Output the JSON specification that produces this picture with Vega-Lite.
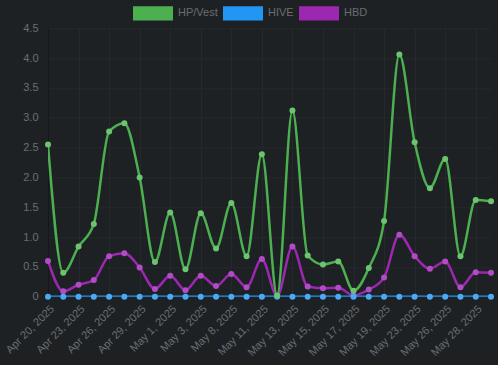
{
  "$schema": "https://vega.github.io/schema/vega-lite/v6.json",
  "autosize": "none",
  "width": 443,
  "height": 268.4,
  "padding": {"left": 48, "top": 28.3, "right": 7, "bottom": 68.3},
  "background": "#1e2124",
  "config": {
    "view": {"stroke": null},
    "font": "Liberation Sans",
    "axis": {"labelColor": "#6a6e73", "labelFontSize": 11, "labelFont": "Liberation Sans", "gridColor": "#25292d", "gridWidth": 1, "ticks": false, "title": null},
    "legend": {"labelColor": "#6a6e73", "labelFontSize": 11, "labelFont": "Liberation Sans"}
  },
  "data": {
    "values": [
      {"date": "Apr 20, 2025", "HP/Vest": 2.55, "HIVE": 0, "HBD": 0.6},
      {"date": "Apr 22, 2025", "HP/Vest": 0.4, "HIVE": 0, "HBD": 0.09},
      {"date": "Apr 23, 2025", "HP/Vest": 0.84, "HIVE": 0, "HBD": 0.2},
      {"date": "Apr 25, 2025", "HP/Vest": 1.22, "HIVE": 0, "HBD": 0.28},
      {"date": "Apr 26, 2025", "HP/Vest": 2.77, "HIVE": 0, "HBD": 0.68},
      {"date": "Apr 28, 2025", "HP/Vest": 2.91, "HIVE": 0, "HBD": 0.73},
      {"date": "Apr 29, 2025", "HP/Vest": 2.0, "HIVE": 0, "HBD": 0.49},
      {"date": "Apr 30, 2025", "HP/Vest": 0.58, "HIVE": 0, "HBD": 0.13},
      {"date": "May 1, 2025", "HP/Vest": 1.41, "HIVE": 0, "HBD": 0.35},
      {"date": "May 2, 2025", "HP/Vest": 0.46, "HIVE": 0, "HBD": 0.11},
      {"date": "May 3, 2025", "HP/Vest": 1.4, "HIVE": 0, "HBD": 0.35},
      {"date": "May 5, 2025", "HP/Vest": 0.81, "HIVE": 0, "HBD": 0.18},
      {"date": "May 8, 2025", "HP/Vest": 1.57, "HIVE": 0, "HBD": 0.38},
      {"date": "May 10, 2025", "HP/Vest": 0.68, "HIVE": 0, "HBD": 0.16},
      {"date": "May 11, 2025", "HP/Vest": 2.39, "HIVE": 0, "HBD": 0.63},
      {"date": "May 12, 2025", "HP/Vest": 0.02, "HIVE": 0, "HBD": 0.01},
      {"date": "May 13, 2025", "HP/Vest": 3.12, "HIVE": 0, "HBD": 0.84},
      {"date": "May 14, 2025", "HP/Vest": 0.69, "HIVE": 0, "HBD": 0.17},
      {"date": "May 15, 2025", "HP/Vest": 0.54, "HIVE": 0, "HBD": 0.14},
      {"date": "May 16, 2025", "HP/Vest": 0.59, "HIVE": 0, "HBD": 0.15},
      {"date": "May 17, 2025", "HP/Vest": 0.1, "HIVE": 0, "HBD": 0.02},
      {"date": "May 18, 2025", "HP/Vest": 0.48, "HIVE": 0, "HBD": 0.12},
      {"date": "May 19, 2025", "HP/Vest": 1.27, "HIVE": 0, "HBD": 0.32},
      {"date": "May 21, 2025", "HP/Vest": 4.06, "HIVE": 0, "HBD": 1.04},
      {"date": "May 23, 2025", "HP/Vest": 2.59, "HIVE": 0, "HBD": 0.68},
      {"date": "May 25, 2025", "HP/Vest": 1.82, "HIVE": 0, "HBD": 0.47},
      {"date": "May 26, 2025", "HP/Vest": 2.31, "HIVE": 0, "HBD": 0.59},
      {"date": "May 27, 2025", "HP/Vest": 0.68, "HIVE": 0, "HBD": 0.16},
      {"date": "May 28, 2025", "HP/Vest": 1.62, "HIVE": 0, "HBD": 0.41},
      {"date": "May 29, 2025", "HP/Vest": 1.6, "HIVE": 0, "HBD": 0.4}
    ]
  },
  "transform": [{"fold": ["HBD", "HIVE", "HP/Vest"], "as": ["series", "value"]}],
  "encoding": {
    "x": {
      "field": "date", "type": "ordinal", "sort": null,
      "scale": {"type": "point", "padding": 0},
      "axis": {
        "values": ["Apr 20, 2025", "Apr 23, 2025", "Apr 26, 2025", "Apr 29, 2025", "May 1, 2025", "May 3, 2025", "May 8, 2025", "May 11, 2025", "May 13, 2025", "May 15, 2025", "May 17, 2025", "May 19, 2025", "May 23, 2025", "May 26, 2025", "May 28, 2025"],
        "labelAngle": -45, "labelPadding": 6, "grid": true, "domain": false
      }
    },
    "y": {
      "field": "value", "type": "quantitative",
      "scale": {"domain": [0, 4.5], "nice": false},
      "axis": {
        "values": [0, 0.5, 1, 1.5, 2, 2.5, 3, 3.5, 4, 4.5],
        "labelExpr": "datum.value == 0 ? '0' : format(datum.value, '.1f')",
        "labelPadding": 10, "grid": true, "domain": true, "domainColor": "#15171a", "domainWidth": 1
      }
    }
  },
  "layer": [
    {
      "mark": {"type": "line", "interpolate": "monotone", "strokeWidth": 2.5, "clip": true},
      "encoding": {
        "color": {"field": "series", "type": "nominal",
          "scale": {"domain": ["HP/Vest", "HIVE", "HBD"], "range": ["#4caf50", "#2196f3", "#9c27b0"]},
          "legend": null}
      }
    },
    {
      "mark": {"type": "circle", "size": 36, "opacity": 1},
      "encoding": {
        "color": {"field": "series", "type": "nominal",
          "scale": {"domain": ["HP/Vest", "HIVE", "HBD"], "range": ["#6cc46f", "#4aaaf5", "#b24cc6"]},
          "legend": null}
      }
    },
    {
      "mark": {"type": "square", "size": 1, "opacity": 0},
      "encoding": {
        "color": {"field": "series", "type": "nominal",
          "scale": {"domain": ["HP/Vest", "HIVE", "HBD"], "range": ["#4caf50", "#2196f3", "#9c27b0"]},
          "legend": {
            "orient": "none", "legendX": 85, "legendY": -35.3, "direction": "horizontal", "title": null,
            "symbolType": "M-1,-0.36H1V0.36H-1Z", "symbolSize": 1600, "symbolOpacity": 1,
            "symbolStrokeWidth": 0, "labelOffset": 5, "columnPadding": 5
          }
        }
      }
    }
  ],
  "resolve": {"scale": {"color": "independent"}}
}
